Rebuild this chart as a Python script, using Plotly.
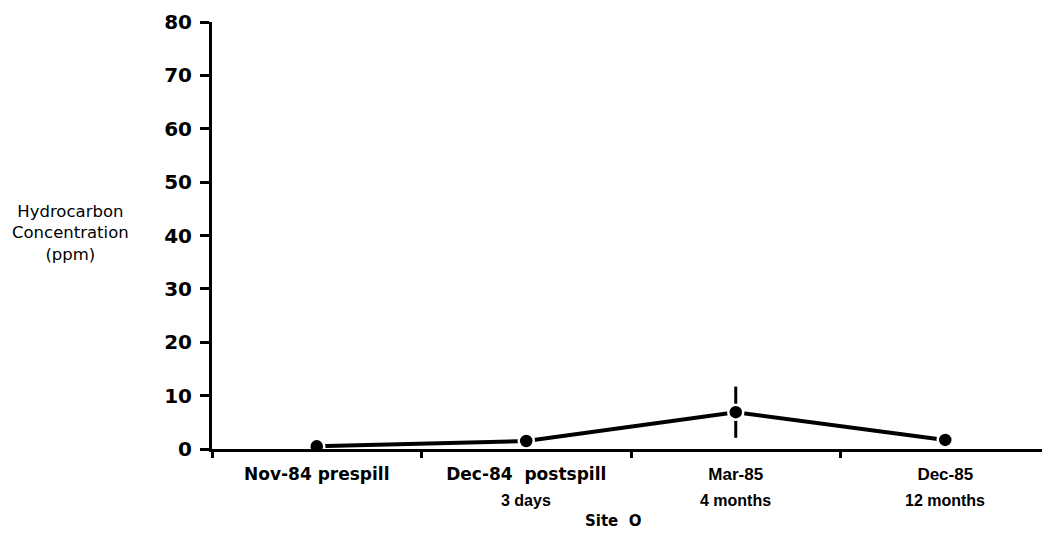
import plotly.graph_objects as go

categories = ["Nov-84 prespill", "Dec-84  postspill", "Mar-85", "Dec-85"]
label_fonts = [("DejaVu Sans", 17), ("DejaVu Sans", 17),
               ("Liberation Sans Narrow, Liberation Sans", 17), ("Liberation Sans Narrow, Liberation Sans", 17)]
sublabels = ["", "3 days", "4 months", "12 months"]
values = [0.5, 1.5, 6.9, 1.7]
errors = [0, 0, 4.8, 0]
y_ticks = [0, 10, 20, 30, 40, 50, 60, 70, 80]

FONT = "DejaVu Sans"

fig = go.Figure()
fig.add_trace(go.Scatter(
    x=categories, y=values,
    mode="lines+markers",
    line=dict(color="black", width=4),
    marker=dict(color="black", size=15, line=dict(color="white", width=2.5)),
    error_y=dict(type="data", array=errors, visible=True, color="black", thickness=3, width=0),
    showlegend=False,
))

fig.update_layout(
    width=1050, height=550,
    paper_bgcolor="white", plot_bgcolor="white",
    margin=dict(l=204, r=8, t=14, b=109),
    xaxis=dict(
        type="category", categoryorder="array", categoryarray=categories,
        range=[-0.5, 3.5], tickson="boundaries", automargin=False,
        tickvals=categories,
        ticktext=['<span style="font-family:%s;font-size:%dpx"><b>%s</b></span>' % (f, s, c)
                  for c, (f, s) in zip(categories, label_fonts)],
        showgrid=False, zeroline=False,
        showline=True, linecolor="black", linewidth=3,
        ticks="outside", ticklen=6, tickwidth=2.5, tickcolor="black",
        ticklabelstandoff=8,
        tickfont=dict(family=FONT, size=17, color="black"),
    ),
    yaxis=dict(
        range=[0, 80], tickvals=y_ticks, automargin=False,
        ticktext=["<b>%d</b>" % v for v in y_ticks],
        showgrid=False, zeroline=False,
        showline=True, linecolor="black", linewidth=3,
        ticks="outside", ticklen=9, tickwidth=3, tickcolor="black",
        ticklabelstandoff=4,
        tickfont=dict(family=FONT, size=20, color="black"),
    ),
    annotations=[dict(
        text="Hydrocarbon<br>Concentration<br>(ppm)", xref="paper", yref="paper",
        x=-0.169, y=0.506, xanchor="center", yanchor="middle", showarrow=False,
        font=dict(family=FONT, size=16.5, color="black"),
    ), dict(
        text="<b>Site  O</b>", xref="paper", yref="paper", x=0.4785, y=0, yshift=-72,
        xanchor="center", yanchor="middle", showarrow=False,
        font=dict(family=FONT, size=15, color="black"),
    )] + [dict(
        text="<b>%s</b>" % s, xref="x", yref="paper", x=c, y=0, yshift=-51,
        xanchor="center", yanchor="middle", showarrow=False,
        font=dict(family="Liberation Sans", size=16, color="black"),
    ) for c, s in zip(categories, sublabels) if s],
)
fig.write_html("out.html")
